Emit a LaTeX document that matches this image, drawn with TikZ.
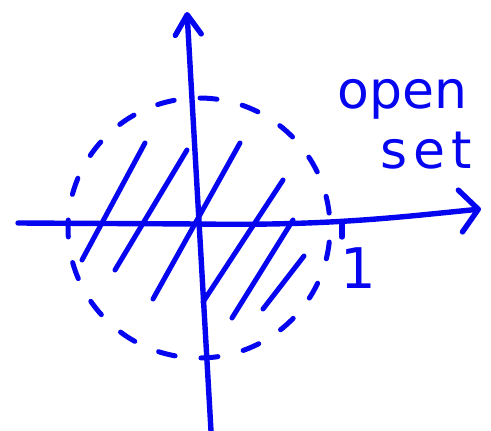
\documentclass[tikz,border=0pt]{standalone}
\usepackage{fontspec}
\newfontfamily\handfont{DejaVu Sans}
\usetikzlibrary{arrows.meta}
\definecolor{penblue}{RGB}{5,5,240}

\begin{document}
\begin{tikzpicture}[x=1pt, y=-1pt,
  pen/.style={draw=penblue, line width=5.4pt, line cap=round, line join=round},
  hatch/.style={pen, line width=5pt},
  rim/.style={pen, line width=5pt, dash pattern=on 17pt off 26pt, dash phase=28pt},
  hand/.style={text=penblue, inner sep=0pt, font=\handfont\fontsize{52}{52}\selectfont}
]
  \useasboundingbox (0,0) rectangle (491,431);

  \coordinate (xstart) at (18,223);
  \coordinate (origin) at (199,224);
  \coordinate (xend) at (481,209);
  \coordinate (ystart) at (211,431);
  \coordinate (yend) at (187,12);
  \coordinate (tick) at (342,223);
  \coordinate (center) at (199,228);

  \draw[rim] (center) ellipse [x radius=131pt, y radius=130pt];

  \draw[hatch] (82,260) -- (145,143);
  \draw[hatch] (115,270) -- (187,150);
  \draw[hatch] (153,299) -- (240,143);
  \draw[hatch] (203,302) -- (283,180);
  \draw[hatch] (232,318) -- (293,220);
  \draw[hatch] (263,309) -- (304,256);

  \draw[pen, -{Straight Barb[length=18pt, width=42pt, round]}] (xstart) -- (origin) .. controls (330,226) and (400,217) .. (xend);
  \draw[pen, -{Straight Barb[length=20pt, width=26pt, round]}] (ystart) -- (yend);
  \draw[pen] (tick) -- ++(0,14);

  \node[hand, anchor=base west] (open) at (337,108) {open};
  \node[hand, anchor=base west] (set) at (380,168) {\addfontfeature{LetterSpace=12}set};
  \node[hand, font=\handfont\fontsize{56}{56}\selectfont, anchor=base] (one) at (358,288) {1};
\end{tikzpicture}
\end{document}
